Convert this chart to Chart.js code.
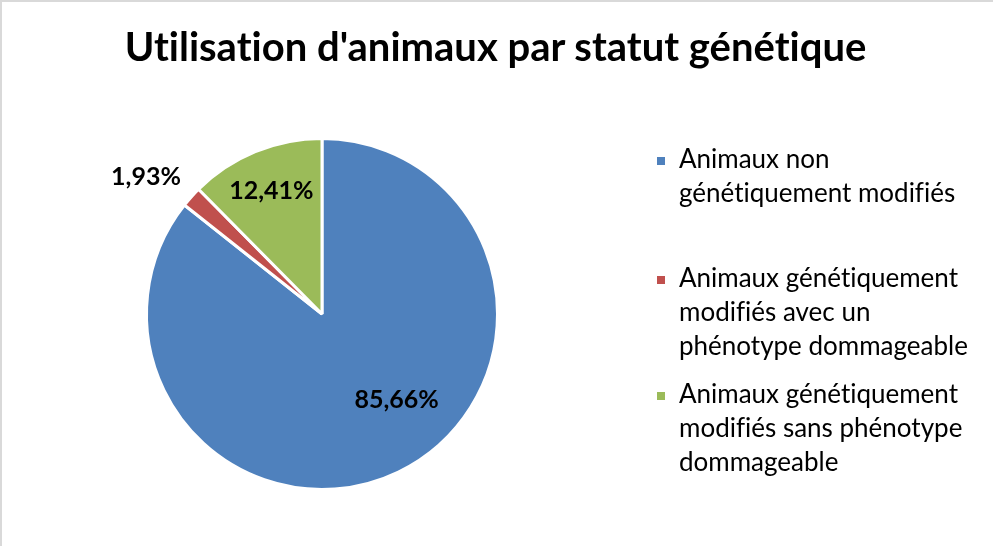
<!DOCTYPE html>
<html>
<head>
<meta charset="utf-8">
<script src="https://cdn.jsdelivr.net/npm/chart.js@4/dist/chart.umd.min.js"></script>
<style>
body{margin:0;background:#fff;}
#wrap{position:relative;width:993px;height:546px;box-sizing:border-box;border-top:2px solid #d9d9d9;border-left:2px solid #d9d9d9;overflow:hidden;font-family:Lato,"Open Sans",sans-serif;font-variant-ligatures:none;}
#chart{position:absolute;left:0;top:0;}
#title{position:absolute;left:0;width:987px;top:20px;text-align:center;font-weight:bold;font-size:40px;color:#000;white-space:nowrap;}
#legend{position:absolute;left:655px;top:139px;font-size:26px;color:#000;}
.item{position:relative;padding-left:22px;line-height:34px;white-space:nowrap;}
.item .sw{position:absolute;left:0;top:16px;width:8px;height:8px;}
</style>
</head>
<body>
<div id="wrap">
<canvas id="chart" width="993" height="546"></canvas>
<div id="title">Utilisation d'animaux par statut génétique</div>
<div id="legend"></div>
</div>
<script>

// chart data
const categories=[
["Animaux non","génétiquement modifiés"],
["Animaux génétiquement","modifiés avec un","phénotype dommageable"],
["Animaux génétiquement","modifiés sans phénotype","dommageable"]
];
const shares=[85.66,1.93,12.41];
const valueLabels=["85,66%","1,93%","12,41%"];
const colors=["#4F81BD","#C0504D","#9BBB59"];

// where each value label sits (fraction of radius, angle shift in degrees)
const labelPlace=[[0.65,-15],[1.27,-4],[0.76,0]];
const legendGaps=[0,51,14];

// HTML LEGEND

const legend=document.getElementById("legend");
categories.forEach((lines,i)=>{
const div=document.createElement("div");
div.className="item";
div.style.marginTop=legendGaps[i]+"px";
const sw=document.createElement("span");
sw.className="sw";
sw.style.background=colors[i];
div.appendChild(sw);
lines.forEach((l,k)=>{
if(k>0) div.appendChild(document.createElement("br"));
div.appendChild(document.createTextNode(l));
});
legend.appendChild(div);
});

// VALUE LABELS ON SLICES

const valueLabelPlugin={
id:"valueLabels",
afterDatasetsDraw(chart){
const c=chart.ctx;
const meta=chart.getDatasetMeta(0);
c.save();
c.font="bold 25px Lato";
c.fillStyle="#000";
c.textAlign="center";
c.textBaseline="middle";
meta.data.forEach((arc,i)=>{
const p=arc.getProps(["x","y","startAngle","endAngle","outerRadius"],true);
const mid=(p.startAngle+p.endAngle)/2+labelPlace[i][1]*Math.PI/180;
const r=p.outerRadius*labelPlace[i][0];
c.fillText(valueLabels[i],p.x+Math.cos(mid)*r,p.y+Math.sin(mid)*r);
});
c.restore();
}
};

const ctx=document.getElementById("chart").getContext("2d");

const pieChart=new Chart(ctx,{
type:"pie",
data:{
labels:categories.map(l=>l.join(" ")),
datasets:[{
data:shares,
backgroundColor:colors,
borderColor:"#fff",
borderWidth:3
}]
},
options:{
responsive:false,
animation:false,
layout:{padding:{left:143,right:496,top:134,bottom:56}},
plugins:{
legend:{display:false},
tooltip:{enabled:false}
}
},
plugins:[valueLabelPlugin]
});
</script>
</body>
</html>
